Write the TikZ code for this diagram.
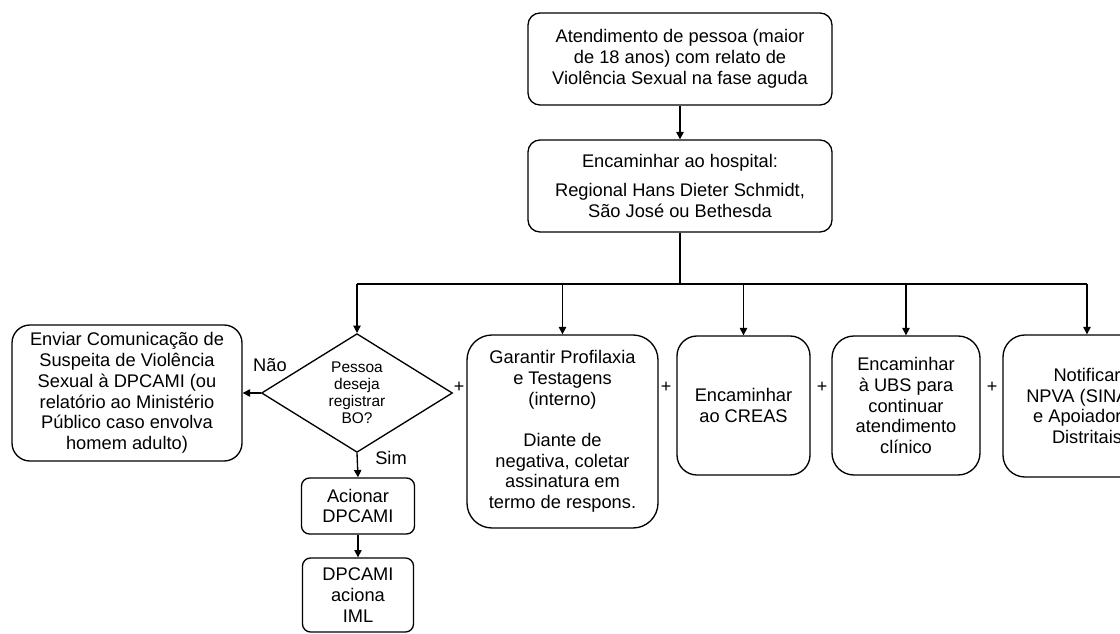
\documentclass[tikz,border=0pt]{standalone}
\usepackage{fontspec}
\setmainfont{Liberation Sans}
\usetikzlibrary{shapes.geometric,arrows.meta}
\tikzset{
	caixa/.style n args={3}{draw, rounded corners=#3*0.75pt, align=center, inner sep=0pt,
		minimum width=#1*0.75pt, minimum height=#2*0.75pt, font=\fontsize{13.7}{15.6}\selectfont},
	losango/.style={draw, diamond, align=center, inner sep=0pt, minimum width=191*0.75pt,
		minimum height=114*0.75pt, font=\fontsize{11.6}{12.8}\selectfont},
	rotulo/.style={font=\fontsize{13.7}{15.6}\selectfont},
	mais/.style={font=\fontsize{13.5}{14}\selectfont},
	seta/.style={-{Triangle[length=5.5pt,width=5.5pt]}}
}
\begin{document}
\begin{tikzpicture}[x=0.75pt, y=-0.75pt, line width=1pt]
	\useasboundingbox (0,0) rectangle (1120,634);
	\clip (0,0) rectangle (1120,634);
	% topo
	\node[caixa={304}{92}{12}] (atend) at (680,59) {Atendimento de pessoa (maior\\de 18 anos) com relato de\\Violência Sexual na fase aguda};
	\node[caixa={304}{92}{12}] (hosp) at (680,186) {Encaminhar ao hospital:\\[6pt]Regional Hans Dieter Schmidt,\\São José ou Bethesda};
	\coordinate (juncao) at (680,284);
	% ramos
	\node[losango] (decisao) at (357,393) {Pessoa\\deseja\\registrar\\BO?};
	\node[caixa={230}{136}{18}] (enviar) at (127,393) {Enviar Comunicação de\\Suspeita de Violência\\Sexual à DPCAMI (ou\\relatório ao Ministério\\Público caso envolva\\homem adulto)};
	\node[caixa={113}{56}{8}] (acionar) at (358,506) {Acionar\\DPCAMI};
	\node[caixa={111}{74}{8}] (iml) at (358,595) {DPCAMI\\aciona\\IML};
	\node[caixa={191}{193}{25}] (garantir) at (562.5,431.5) {Garantir Profilaxia\\e Testagens\\(interno)\\[15pt]Diante de\\negativa, coletar\\assinatura em\\termo de respons.};
	\node[caixa={133}{139}{20}] (creas) at (743.5,405.5) {Encaminhar\\ao CREAS};
	\node[caixa={148}{139}{22}] (ubs) at (906,405.5) {Encaminhar\\à UBS para\\continuar\\atendimento\\clínico};
	\node[caixa={168}{142}{22}] (npva) at (1087,406) {Notificar\\NPVA (SINAN)\\e Apoiadores\\Distritais};
	% rotulos
	\node[rotulo] (nao) at (270,365) {Não};
	\node[rotulo] (sim) at (391,458) {Sim};
	\foreach \nome/\x in {m1/459, m2/666, m3/822, m4/992}
		\node[mais] (\nome) at (\x,387) {+};
	% conectores
	\draw[seta] (atend) -- (hosp);
	\draw (hosp.south) -- (juncao);
	\draw (juncao -| decisao.north) -- (juncao -| npva.north);
	\foreach \alvo in {decisao, garantir, creas, ubs, npva}
		\draw[seta] (juncao -| \alvo.north) -- (\alvo.north);
	\draw[seta] (decisao.west) -- (enviar.east);
	\draw[seta] (decisao.south) -- (acionar.north);
	\draw[seta] (acionar) -- (iml);
\end{tikzpicture}
\end{document}
